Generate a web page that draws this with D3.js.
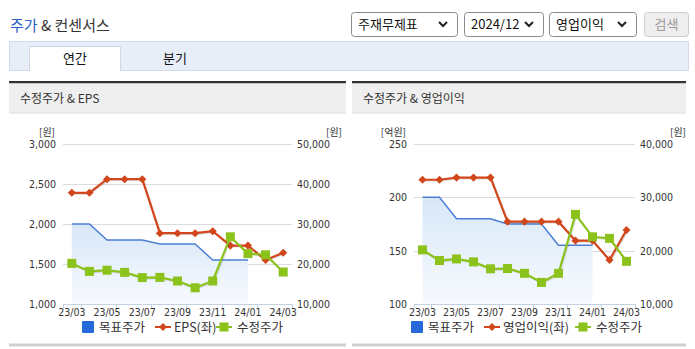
<!DOCTYPE html>
<html><head><meta charset="utf-8">
<script src="https://cdn.jsdelivr.net/npm/d3@7"></script>
<style>
html,body{margin:0;padding:0;background:#fff;}
svg{display:block;font-family:"Liberation Sans","Noto Sans CJK KR",sans-serif;}
.num{font-family:"Liberation Sans Narrow","DejaVu Sans Condensed","Liberation Sans",sans-serif;}
</style></head>
<body>
<svg id="c" width="695" height="349"></svg>
<script>
// ---- data ----
const months = ["23/03","23/04","23/05","23/06","23/07","23/08","23/09","23/10","23/11","23/12","24/01","24/02","24/03"];
const tickLabels = ["23/03","23/05","23/07","23/09","23/11","24/01","24/03"];
const targetPrice = [30000,30000,26000,26000,26000,25000,25000,25000,21000,21000,21000,null,null];
const adjPrice = [20150,18150,18450,17900,16600,16650,15750,14050,15750,26800,22600,22300,18000];
const eps = [2390,2390,2560,2560,2560,1885,1885,1885,1910,1730,1730,1550,1640];
const opProfit = [216.5,216.5,218.5,218.5,218.5,177.2,177.2,177.2,177.2,159.4,159.4,141.2,169.4];
const epsTicks = [1000,1500,2000,2500,3000];
const priceTicksA = [10000,20000,30000,40000,50000];
const opTicks = [100,150,200,250];
const priceTicksB = [10000,20000,30000,40000];

const svg = d3.select("#c");
const KR = "'Noto Sans CJK KR',sans-serif";
const RED = "#d2461b", GREEN = "#8cc21c", BLUE = "#4b7fd6", BLUESQ = "#2468d9";

// gradient
const defs = svg.append("defs");
const grad = defs.append("linearGradient").attr("id","ga").attr("x1",0).attr("y1",0).attr("x2",0).attr("y2",1);
grad.append("stop").attr("offset","0%").attr("stop-color","#d8e7f8");
grad.append("stop").attr("offset","100%").attr("stop-color","#f7fafe");

// ---- header ----
const t = svg.append("text").attr("x",10).attr("y",31).attr("font-size",15).attr("font-family",KR);
t.append("tspan").attr("fill","#2a62c4").text("주가");
t.append("tspan").attr("fill","#333").text(" & 컨센서스");

// select boxes
const sels = [{x:351,w:106,t:"주재무제표"},{x:464,w:79,t:"2024/12"},{x:549,w:87,t:"영업이익"}];
sels.forEach(s=>{
  svg.append("rect").attr("x",s.x+0.5).attr("y",12.5).attr("width",s.w).attr("height",24).attr("rx",3)
    .attr("fill","#fff").attr("stroke","#8a8a8a");
  svg.append("text").attr("x",s.x+7).attr("y",29).attr("font-size",13).attr("fill","#111").attr("font-family",KR).text(s.t);
  const cx = s.x+s.w-14;
  svg.append("path").attr("d",`M${cx-4},${22} L${cx},${26} L${cx+4},${22}`).attr("fill","none").attr("stroke","#222").attr("stroke-width",2);
});
svg.append("rect").attr("x",644.5).attr("y",12.5).attr("width",44).attr("height",24).attr("rx",3).attr("fill","#eee").attr("stroke","#ccc");
svg.append("text").attr("x",666.5).attr("y",29).attr("text-anchor","middle").attr("font-size",13).attr("fill","#9a9a9a").attr("font-family",KR).text("검색");

// tab bar
svg.append("rect").attr("x",9.5).attr("y",41.5).attr("width",679).attr("height",29).attr("fill","#e8eef8").attr("stroke","#d3dbe8");
svg.append("path").attr("d","M29.5,71 V46.5 H120.5 V71").attr("fill","#fff").attr("stroke","#cdd6e4");
svg.append("rect").attr("x",30).attr("y",47).attr("width",90).attr("height",25).attr("fill","#fff");
svg.append("text").attr("x",75).attr("y",63).attr("text-anchor","middle").attr("font-size",13).attr("fill","#111").attr("font-family",KR).text("연간");
svg.append("text").attr("x",175).attr("y",63).attr("text-anchor","middle").attr("font-size",13).attr("fill","#111").attr("font-family",KR).text("분기");

function panel(cfg){
  const g = svg.append("g");
  g.append("rect").attr("x",cfg.px).attr("y",81).attr("width",cfg.pw).attr("height",2.5).attr("fill","#333");
  g.append("rect").attr("x",cfg.px).attr("y",83.5).attr("width",cfg.pw).attr("height",29.5).attr("fill","#efefef");
  g.append("rect").attr("x",cfg.px).attr("y",112.5).attr("width",cfg.pw).attr("height",1).attr("fill","#e0e0e0");
  g.append("text").attr("x",cfg.px+11).attr("y",103).attr("font-size",12).attr("fill","#333").attr("font-family",KR).text(cfg.title);
  g.append("rect").attr("x",cfg.px).attr("y",343.5).attr("width",cfg.pw).attr("height",3).attr("fill","#cfcfcf");

  const x = d3.scaleBand().domain(months).range([cfg.x0,cfg.x1]);
  const cx = m => x(m)+x.bandwidth()/2;
  const yL = d3.scaleLinear().domain(cfg.lDom).range([304,144]);
  const yR = d3.scaleLinear().domain(cfg.rDom).range([304,144]);
  const fmt = d3.format(",");

  // grid
  cfg.lTicks.forEach(v=>{
    if(v===cfg.lDom[0]) return;
    g.append("line").attr("x1",cfg.x0).attr("x2",cfg.x1).attr("y1",Math.round(yL(v))+0.5).attr("y2",Math.round(yL(v))+0.5).attr("stroke","#dcdcdc");
  });
  // left axis labels
  cfg.lTicks.forEach(v=>{
    g.append("text").attr("class","num").attr("x",cfg.x0-7).attr("y",yL(v)+4).attr("text-anchor","end").attr("font-size",10.5).attr("fill","#333").text(fmt(v));
  });
  cfg.rTicks.forEach(v=>{
    g.append("text").attr("class","num").attr("x",cfg.x1+5).attr("y",yR(v)+4).attr("text-anchor","start").attr("font-size",10.5).attr("fill","#333").text(fmt(v));
  });
  g.append("text").attr("x",cfg.x0-8).attr("y",136).attr("text-anchor","end").attr("font-size",10).attr("fill","#333").attr("font-family",KR).text(cfg.lUnit);
  g.append("text").attr("x",cfg.rUnitX).attr("y",136).attr("text-anchor","end").attr("font-size",10).attr("fill","#333").attr("font-family",KR).text("[원]");

  // target price area
  const tp = months.map((m,i)=>({m,v:targetPrice[i]})).filter(d=>d.v!=null);
  g.append("path").datum(tp).attr("fill","url(#ga)")
    .attr("d",d3.area().x(d=>cx(d.m)).y0(304).y1(d=>yR(d.v)));
  g.append("path").datum(tp).attr("fill","none").attr("stroke",BLUE).attr("stroke-width",1.5)
    .attr("d",d3.line().x(d=>cx(d.m)).y(d=>yR(d.v)));

  // x axis
  g.append("line").attr("x1",cfg.x0).attr("x2",cfg.x1).attr("y1",304.5).attr("y2",304.5).attr("stroke","#c3d1e2");
  const tickXs=[cfg.x0];
  tickLabels.forEach(l=>tickXs.push(x(l)+x.bandwidth()));
  tickXs.forEach(tx=>{
    g.append("line").attr("x1",Math.round(tx)+0.5).attr("x2",Math.round(tx)+0.5).attr("y1",304).attr("y2",309).attr("stroke","#c3d1e2");
  });
  tickLabels.forEach(l=>{
    g.append("text").attr("class","num").attr("x",cx(l)).attr("y",316).attr("text-anchor","middle").attr("font-size",10.5).attr("fill","#333").text(l);
  });

  // left-axis series (red)
  const ls = months.map((m,i)=>({m,v:cfg.lData[i]}));
  g.append("path").datum(ls).attr("fill","none").attr("stroke","rgba(0,0,0,0.12)").attr("stroke-width",2).attr("transform","translate(1,1)")
    .attr("d",d3.line().x(d=>cx(d.m)).y(d=>yL(d.v)));
  g.append("path").datum(ls).attr("fill","none").attr("stroke",RED).attr("stroke-width",2.2)
    .attr("d",d3.line().x(d=>cx(d.m)).y(d=>yL(d.v)));
  g.selectAll(".dm").data(ls).enter().append("path")
    .attr("d",d3.symbol().type(d3.symbolDiamond2).size(42))
    .attr("transform",d=>`translate(${cx(d.m)},${yL(d.v)})`).attr("fill",RED);

  // adjusted price (green)
  const gs = months.map((m,i)=>({m,v:adjPrice[i]}));
  g.append("path").datum(gs).attr("fill","none").attr("stroke","rgba(0,0,0,0.12)").attr("stroke-width",2).attr("transform","translate(1,1)")
    .attr("d",d3.line().x(d=>cx(d.m)).y(d=>yR(d.v)));
  g.append("path").datum(gs).attr("fill","none").attr("stroke",GREEN).attr("stroke-width",2.2)
    .attr("d",d3.line().x(d=>cx(d.m)).y(d=>yR(d.v)));
  g.selectAll(".sq").data(gs).enter().append("rect")
    .attr("x",d=>cx(d.m)-4.5).attr("y",d=>yR(d.v)-4.5).attr("width",9).attr("height",9).attr("fill",GREEN);

  // legend
  const lx = cfg.legX;
  g.append("rect").attr("x",lx).attr("y",321).attr("width",12).attr("height",12).attr("rx",1).attr("fill",BLUESQ);
  g.append("text").attr("x",lx+17).attr("y",332).attr("font-size",12.5).attr("fill","#333").attr("font-family",KR).text("목표주가");
  const l2 = cfg.leg2X;
  g.append("line").attr("x1",l2).attr("x2",l2+16).attr("y1",327).attr("y2",327).attr("stroke",RED).attr("stroke-width",2);
  g.append("path").attr("d",d3.symbol().type(d3.symbolDiamond2).size(42)).attr("transform",`translate(${l2+8},327)`).attr("fill",RED);
  g.append("text").attr("x",l2+19).attr("y",332).attr("font-size",12.5).attr("fill","#333").attr("font-family",KR).text(cfg.lName);
  const l3 = cfg.leg3X;
  g.append("line").attr("x1",l3).attr("x2",l3+16).attr("y1",327).attr("y2",327).attr("stroke",GREEN).attr("stroke-width",2);
  g.append("rect").attr("x",l3+3.5).attr("y",322.5).attr("width",9).attr("height",9).attr("fill",GREEN);
  g.append("text").attr("x",l3+21).attr("y",332).attr("font-size",12.5).attr("fill","#333").attr("font-family",KR).text("수정주가");
}

panel({px:9,pw:337,title:"수정주가 & EPS",x0:63,x1:292,lDom:[1000,3000],rDom:[10000,50000],
  lTicks:epsTicks,rTicks:priceTicksA,lUnit:"[원]",rUnitX:342,lData:eps,lName:"EPS(좌)",
  legX:82,leg2X:155,leg3X:216});
panel({px:352,pw:334,title:"수정주가 & 영업이익",x0:414,x1:635,lDom:[100,250],rDom:[10000,40000],
  lTicks:opTicks,rTicks:priceTicksB,lUnit:"[억원]",rUnitX:686,lData:opProfit,lName:"영업이익(좌)",
  legX:411,leg2X:484,leg3X:575});
</script>
</body></html>
